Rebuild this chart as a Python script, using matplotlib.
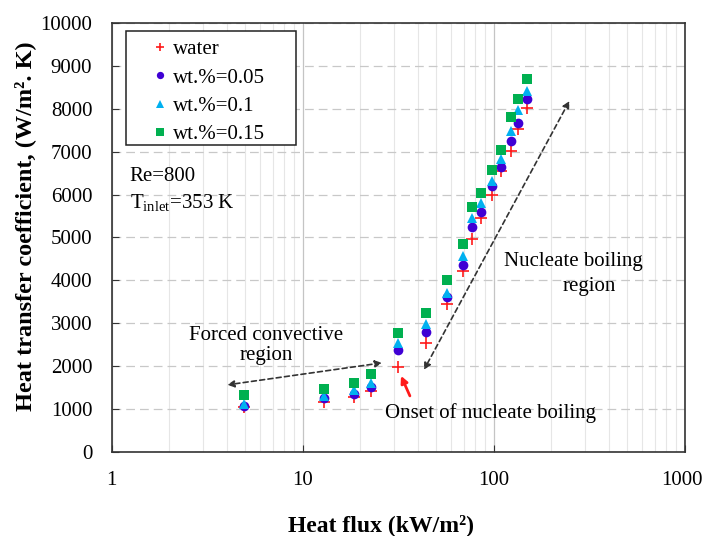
import numpy as np
import matplotlib
matplotlib.use("Agg")
import matplotlib.pyplot as plt
import matplotlib.transforms as mtransforms
from matplotlib.patches import Rectangle
from matplotlib.ticker import FixedLocator, LogLocator, NullFormatter

plt.rcParams["font.family"] = ["Liberation Serif", "DejaVu Serif"]
plt.rcParams["mathtext.fontset"] = "custom"
plt.rcParams["mathtext.rm"] = "Liberation Serif"
plt.rcParams["mathtext.it"] = "Liberation Serif:italic"
plt.rcParams["mathtext.bf"] = "Liberation Serif:bold"

# Heat flux (kW/m2)
q_flux = [4.9, 12.9, 18.5, 22.9, 31.5, 44.2, 56.8, 68.7, 77.2, 86.1,
          97.6, 109.7, 123.4, 134.3, 148.6]

h_water = [1047, 1163, 1279, 1419, 1969, 2543, 3442, 4225, 4953, 5457,
           5992, 6558, 7008, 7519, 8023]
h_005 = [1078, 1256, 1357, 1512, 2364, 2806, 3605, 4364, 5240, 5605,
         6202, 6651, 7248, 7667, 8225]
h_010 = [1124, 1295, 1434, 1605, 2535, 2984, 3713, 4566, 5465, 5798,
         6318, 6837, 7481, 7961, 8426]
h_015 = [1326, 1465, 1605, 1806, 2767, 3240, 4008, 4845, 5721, 6031,
         6566, 7047, 7806, 8225, 8698]

SERIER = [
    ("water",      h_water, "+", "#ff1a1a", 8),
    ("wt.%=0.05",  h_005,   "o", "#3f00d4", 7),
    ("wt.%=0.1",   h_010,   "^", "#00b0f0", 7),
    ("wt.%=0.15",  h_015,   "s", "#00b050", 7),
]

fig = plt.figure(figsize=(7.07, 5.36), dpi=100)
ax = fig.add_axes([0.158, 0.157, 0.8105, 0.800])

for navn, h, mk, farge, ms in SERIER:
    ax.plot(q_flux, h, linestyle="none", marker=mk, color=farge,
            markersize=ms, markeredgewidth=1.2 if mk == "+" else 0,
            label=navn, zorder=3)

ax.set_xscale("log")
ax.set_xlim(1, 1000)
ax.set_ylim(0, 10000)
ax.yaxis.set_major_locator(FixedLocator(np.arange(0, 10001, 1000)))
ax.xaxis.set_major_locator(FixedLocator([1, 10, 100, 1000]))
ax.set_xticklabels(["1", "10", "100", "1000"])
ax.xaxis.set_minor_locator(LogLocator(base=10, subs=np.arange(2, 10)))
ax.xaxis.set_minor_formatter(NullFormatter())

# rutenett
ax.grid(axis="y", which="major", color="#c8c8c8", linestyle=(0, (7, 4)), linewidth=0.9)
ax.grid(axis="x", which="minor", color="#e6e6e6", linestyle="-", linewidth=0.8)
ax.grid(axis="x", which="major", color="#c4c4c4", linestyle="-", linewidth=0.9)
ax.set_axisbelow(True)

for s in ax.spines.values():
    s.set_color("#333333")
    s.set_linewidth(1.2)

ax.tick_params(axis="both", which="major", direction="in", length=5,
               labelsize=15, color="#333333")
ax.tick_params(axis="x", which="minor", length=0)
ax.tick_params(axis="y", pad=14)
ax.tick_params(axis="x", pad=14)

# siste x-etikett litt mot venstre så den ikke kuttes
siste = ax.get_xticklabels()[-1]
siste.set_transform(siste.get_transform() +
                    mtransforms.ScaledTranslation(-2 / 72, 0, fig.dpi_scale_trans))

# aksetitler (litt forskjøvet som i originalen)
fig.text(381 / 707, 1 - 531 / 536, "Heat flux (kW/m²)", fontsize=17,
         fontweight="bold", ha="center", va="baseline")
fig.text(25 / 707, 1 - 226 / 536, "Heat transfer coefficient, (W/m². K)",
         fontsize=17.5, fontweight="bold", ha="center", va="center", rotation=90)

# tegnforklaring med egen ramme
ax.add_patch(Rectangle((0.0244, 0.7156), 0.297, 0.2657, transform=ax.transAxes,
                       fill=True, facecolor="white", edgecolor="#222222",
                       linewidth=1.1, zorder=4))
leg = ax.legend(loc="upper left", bbox_to_anchor=(0.074, 0.961),
                borderaxespad=0, borderpad=0, fontsize=15, markerscale=0.75,
                handlelength=0.6, handletextpad=0.3, labelspacing=0.42,
                frameon=False)
leg.set_zorder(5)

# tekster
ax.text(1.24, 6410, "Re=800", fontsize=15, va="center", ha="left")
ax.text(1.24, 5804, r"T$_{\mathrm{inlet}}$=353 K", fontsize=15, va="center", ha="left")
ax.text(6.45, 2480, "Forced convective\nregion", fontsize=15, ha="center",
        va="center", linespacing=1.05)
ax.text(262, 4429, "Nucleate boiling", fontsize=15, ha="center", va="center")
ax.text(317, 3846, "region", fontsize=15, ha="center", va="center")
ax.text(27.0, 909, "Onset of nucleate boiling", fontsize=15, ha="left", va="center")

# piler
pil = dict(arrowstyle="<|-|>", linestyle=(0, (3, 2)), color="#333333",
           lw=1.2, mutation_scale=10, shrinkA=0, shrinkB=0)
ax.annotate("", xy=(4.03, 1562), xytext=(26.0, 2075), arrowprops=pil)
ax.annotate("", xy=(43.1, 1911), xytext=(249, 8182), arrowprops=pil)
ax.annotate("", xy=(32.7, 1772), xytext=(36.4, 1305),
            arrowprops=dict(arrowstyle="-|>", color="#ff1a1a", lw=2,
                            mutation_scale=10, shrinkA=0, shrinkB=0))

fig.savefig("out.png", dpi=100)
